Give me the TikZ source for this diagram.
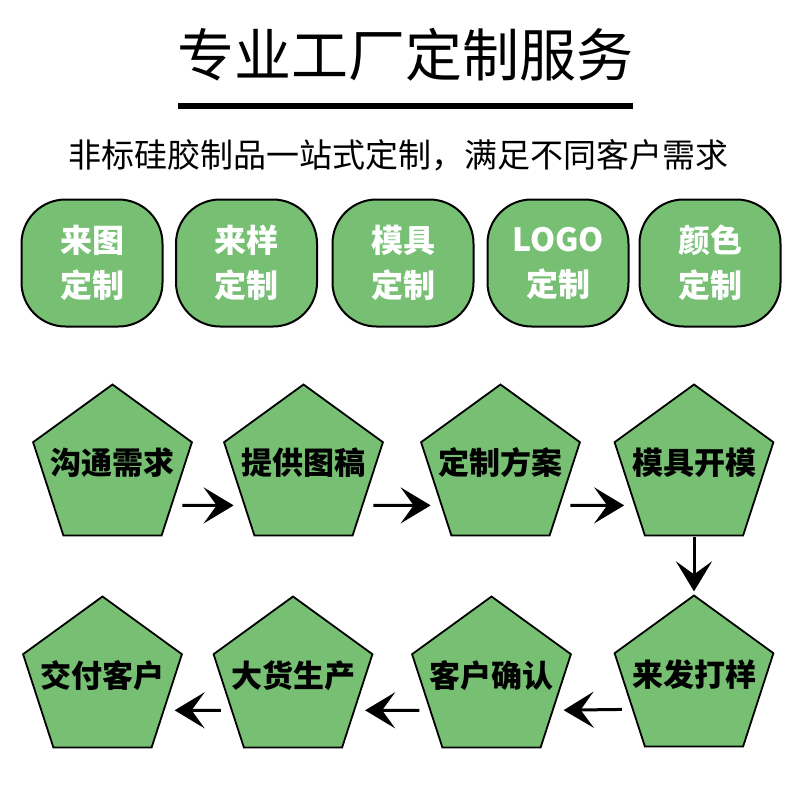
\documentclass[tikz,border=0pt]{standalone}
\usepackage{fontspec}
\setmainfont{Noto Sans CJK SC}
\usetikzlibrary{shapes.geometric,arrows.meta}
\definecolor{leaf}{HTML}{76BF73}

\begin{document}
\begin{tikzpicture}[x=1pt,y=-1pt,
  card/.style={draw=black,line width=2pt,fill=leaf,rounded corners=44pt,
    minimum width=141pt,minimum height=127pt,inner sep=0pt,align=center,
    text=white,font=\fontsize{32}{45}\selectfont\bfseries},
  penta/.style={draw=black,line width=1.8pt,fill=leaf,regular polygon,
    regular polygon sides=5,minimum size=167pt,inner sep=0pt},
  pentext/.style={inner sep=0pt,font=\fontsize{31}{31}\selectfont\bfseries},
  flow/.style={-{Stealth[length=30pt,width=36pt,inset=13pt]},line width=3pt,
    shorten <=10pt,shorten >=10pt}]

\useasboundingbox (0,0) rectangle (800,800);


\node (title) at (405,55) {\fontsize{57}{57}\selectfont 专业工厂定制服务};
\fill (178,103) rectangle (633,109);
\node (sub) at (398,155) {\fontsize{33}{33}\selectfont 非标硅胶制品一站式定制，满足不同客户需求};


\node[card] (c1) at (92,263) {来图\\定制};
\node[card] (c2) at (246.5,263) {来样\\定制};
\node[card] (c3) at (403,263) {模具\\定制};
\node[card] (c4) at (558,263) {LOGO\\定制};
\node[card] (c5) at (710,263) {颜色\\定制};


\node[penta] (p1) at (112.5,468) {};
\node[penta] (p2) at (303.5,468) {};
\node[penta] (p3) at (500.5,468) {};
\node[penta] (p4) at (694,468) {};

\node[penta] (p5) at (694,679) {};
\node[penta] (p6) at (491.5,680) {};
\node[penta] (p7) at (293,680) {};
\node[penta] (p8) at (102.5,680) {};

\node[pentext] (t1) at ([yshift=5pt]p1.center) {沟通需求};
\node[pentext] (t2) at ([yshift=5pt]p2.center) {提供图稿};
\node[pentext] (t3) at ([yshift=5pt]p3.center) {定制方案};
\node[pentext] (t4) at ([yshift=5pt]p4.center) {模具开模};
\node[pentext] (t5) at ([yshift=4pt]p5.center) {来发打样};
\node[pentext] (t6) at ([yshift=4pt]p6.center) {客户确认};
\node[pentext] (t7) at ([yshift=4pt]p7.center) {大货生产};
\node[pentext] (t8) at ([yshift=4pt]p8.center) {交付客户};


\draw[flow] (p1.-32) -- (p2.212);
\draw[flow] (p2.-32) -- (p3.212);
\draw[flow] (p3.-32) -- (p4.212);
\draw[flow,shorten <=1pt,shorten >=3pt] (p4.south) -- (p5.north);
\draw[flow] (p5.206) -- (p6.-26);
\draw[flow] (p6.206) -- (p7.-26);
\draw[flow] (p7.206) -- (p8.-26);

\end{tikzpicture}
\end{document}
